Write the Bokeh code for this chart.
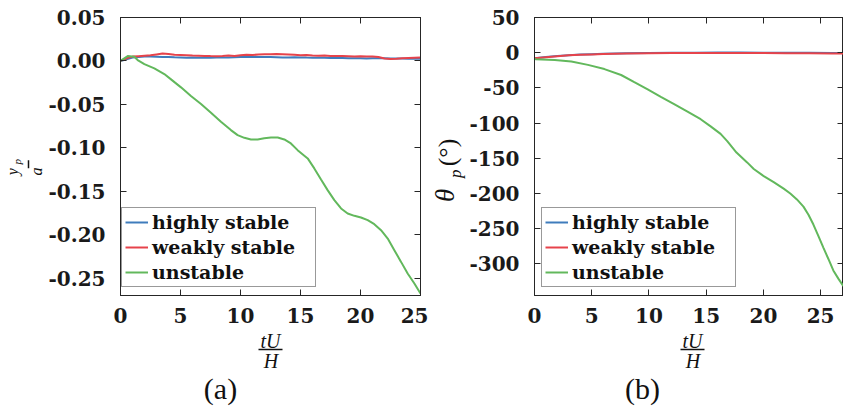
import math
from bokeh.plotting import figure
from bokeh.layouts import row, column
from bokeh.models import (Range1d, LinearAxis, Legend, LegendItem, FixedTicker,
                          PrintfTickFormatter, CustomJSTickFormatter)
from bokeh.core.properties import value
from bokeh.embed import file_html
from bokeh.resources import INLINE

# ---------------- data: panel (a) ----------------
t_stable_a = [0, 0.5, 1, 1.5, 2, 2.5, 3, 3.5, 4, 4.5, 5, 5.5, 6, 6.5, 7, 7.5, 8,
              8.5, 9, 9.5, 10, 10.5, 11, 11.5, 12, 12.5, 13, 13.5, 14, 14.5, 15,
              15.5, 16, 16.5, 17, 17.5, 18, 18.5, 19, 19.5, 20, 20.5, 21, 21.5,
              22, 22.5, 23, 23.5, 24, 24.5, 25]
highly_a = [0.0, 0.002, 0.004, 0.0045, 0.005, 0.005, 0.0048, 0.0046, 0.0045,
            0.0042, 0.004, 0.0038, 0.0039, 0.0037, 0.0036, 0.0038, 0.004, 0.0039,
            0.0041, 0.0043, 0.0044, 0.0045, 0.0044, 0.0046, 0.0045, 0.0044,
            0.0043, 0.0041, 0.004, 0.0042, 0.0041, 0.0039, 0.0038, 0.0036,
            0.0037, 0.0035, 0.0033, 0.0034, 0.0032, 0.003, 0.0031, 0.0029, 0.003,
            0.0031, 0.003, 0.0028, 0.0027, 0.0028, 0.0026, 0.0027, 0.0025]
weakly_a = [0.0, 0.003, 0.005, 0.0055, 0.006, 0.0065, 0.0075, 0.0085, 0.008,
            0.007, 0.0068, 0.0065, 0.0062, 0.006, 0.0058, 0.0056, 0.0055, 0.0058,
            0.0062, 0.0058, 0.0065, 0.0072, 0.0068, 0.0075, 0.0078, 0.0076,
            0.0079, 0.0077, 0.0074, 0.007, 0.0065, 0.0068, 0.0063, 0.006, 0.0062,
            0.0058, 0.0056, 0.0058, 0.0055, 0.0052, 0.0054, 0.005, 0.0052, 0.0045,
            0.0028, 0.0022, 0.0025, 0.003, 0.0035, 0.0038, 0.004]
t_unstable_a = [0, 0.6, 1.15, 1.43, 1.99, 2.82, 3.65, 4.21, 5.04, 5.87, 6.71,
                7.54, 8.37, 9.2, 9.76, 10.32, 10.87, 11.43, 11.98, 12.54, 13.1,
                13.65, 14.2, 14.76, 15.6, 16.15, 16.71, 17.26, 17.82, 18.38,
                18.93, 19.49, 20.04, 20.6, 21.15, 21.71, 22.27, 22.82, 23.38,
                23.93, 24.49, 25.0]
unstable_a = [0.0, 0.0056, 0.0048, 0.001, -0.0036, -0.0085, -0.0151, -0.0212,
              -0.0304, -0.0404, -0.0496, -0.0597, -0.0700, -0.0796, -0.0854,
              -0.0885, -0.0904, -0.0904, -0.0889, -0.0881, -0.0881, -0.0904,
              -0.0950, -0.1027, -0.1122, -0.1237, -0.1364, -0.1487, -0.1602,
              -0.1698, -0.1756, -0.1783, -0.1802, -0.1833, -0.1879, -0.1948,
              -0.2044, -0.2178, -0.2313, -0.2447, -0.2562, -0.2677]
yticks_a = [-0.25, -0.20, -0.15, -0.10, -0.05, 0.0, 0.05]
xticks = [0, 5, 10, 15, 20, 25]

# ---------------- data: panel (b) ----------------
t_stable_b = [0, 1, 2, 3, 4, 5, 6, 7, 8, 10, 12, 14, 16, 18, 20, 22, 24, 26, 27]
weakly_b = [-8, -6.5, -5, -3.8, -3, -2.4, -1.9, -1.5, -1.2, -0.8, -0.5, -0.3,
            -0.3, -0.4, -0.5, -0.7, -0.9, -1.1, -1.2]
highly_b = [-8, -6.2, -4.7, -3.5, -2.7, -2.1, -1.6, -1.2, -0.9, -0.5, -0.2, 0.0,
            0.1, 0.1, 0.0, -0.1, -0.2, -0.3, -0.4]
t_unstable_b = [0, 0.09, 1.77, 3.22, 4.67, 6.11, 7.57, 8.72, 9.89, 11.04, 12.2,
                13.37, 14.52, 15.39, 16.26, 16.84, 17.65, 18.58, 19.16, 20.03,
                20.9, 21.77, 22.35, 22.93, 23.5, 23.94, 24.37, 24.81, 25.24,
                25.68, 26.11, 26.55, 26.93, 27.0]
unstable_b = [-8.5, -9.3, -10.3, -12.6, -17.3, -23.3, -31.7, -41.9, -52.2,
              -62.8, -73.1, -83.7, -94.5, -104.7, -115.4, -125.6, -141.9,
              -155.9, -165.2, -175.4, -183.8, -193.1, -200.1, -208.5, -218.7,
              -230.3, -244.2, -260.5, -276.9, -293.1, -309.4, -321.0, -330.3,
              -331.5]
yticks_b = [-300, -250, -200, -150, -100, -50, 0, 50]

labels = ["highly stable", "weakly stable", "unstable"]
colors = ["#3f7cbc", "#e6434b", "#62b85c"]

INK = "#262626"
TICK_FONT = "DejaVu Serif"
MATH_FONT = "Liberation Serif"
TOP_H = 328
H = 408
W = 843


def style_axis(ax, ticks, fmt, show_labels=True, standoff=12):
    ax.ticker = FixedTicker(ticks=ticks)
    ax.major_tick_in = 6
    ax.major_tick_out = 0
    ax.minor_tick_line_color = None
    ax.axis_line_color = INK
    ax.major_tick_line_color = INK
    ax.axis_line_width = 1
    ax.major_label_text_font = TICK_FONT
    ax.major_label_text_font_style = "bold"
    ax.major_label_text_color = "#1a1a1a"
    if show_labels:
        ax.formatter = PrintfTickFormatter(format=fmt)
        ax.major_label_text_font_size = "20px"
        ax.major_label_standoff = standoff
    else:
        ax.formatter = CustomJSTickFormatter(code="return ''")
        ax.major_label_text_font_size = "8px"
        ax.major_label_standoff = 0


def make_panel(width, xr, yr, yt, yfmt, borders, ystandoff):
    p = figure(width=width, height=TOP_H, x_range=Range1d(*xr),
               y_range=Range1d(*yr), output_backend="svg",
               toolbar_location=None, min_border_left=borders[0],
               min_border_right=borders[1], min_border_top=borders[2],
               min_border_bottom=borders[3])
    p.xgrid.grid_line_color = None
    p.ygrid.grid_line_color = None
    p.outline_line_color = INK
    p.background_fill_color = "white"
    p.border_fill_color = "white"
    style_axis(p.xaxis[0], xticks, "%d")
    style_axis(p.yaxis[0], yt, yfmt, standoff=ystandoff)
    top = LinearAxis()
    style_axis(top, xticks, "%d", show_labels=False)
    p.add_layout(top, "above")
    right = LinearAxis()
    style_axis(right, yt, yfmt, show_labels=False)
    p.add_layout(right, "right")
    return p


def add_legend(p, renderers, loc):
    items = [LegendItem(label=l, renderers=[r]) for l, r in zip(labels, renderers)]
    lg = Legend(items=items, location=loc, label_text_font=TICK_FONT,
                label_text_font_style="bold", label_text_font_size="19px",
                label_text_color="#111111", glyph_width=23, glyph_height=20,
                label_height=20, label_width=160, spacing=3, padding=3,
                margin=0, label_standoff=4, border_line_color="#333333",
                border_line_width=1, background_fill_alpha=1)
    p.add_layout(lg)


def blank(width, height, xr, yr):
    f = figure(width=width, height=height, x_range=Range1d(*xr),
               y_range=Range1d(*yr), output_backend="svg",
               toolbar_location=None, x_axis_type=None, y_axis_type=None,
               min_border=0)
    f.xgrid.grid_line_color = None
    f.ygrid.grid_line_color = None
    f.outline_line_color = None
    return f


def txt(f, x, y, s, size, style="normal", angle=0.0, font=MATH_FONT):
    f.text(x=[x], y=[y], text=[s], text_font=value(font),
           text_font_size=value("%dpx" % size), text_font_style=style,
           text_align="center", text_baseline="middle", angle=angle,
           text_color="#111111")


def rtxt(f, x, y, s, size, style="normal"):
    # rotated text lands about half a line height too high: compensate
    txt(f, x, y + 0.55 * size, s, size, style, angle=math.pi / 2)


# ---------------- panel (a) ----------------
pa = make_panel(384, (0, 25), (-0.27, 0.05), yticks_a, "%.2f",
                (76, 8, 17, TOP_H - 296), 15)
ra = [pa.line(t_stable_a, highly_a, line_color=colors[0], line_width=2),
      pa.line(t_stable_a, weakly_a, line_color=colors[1], line_width=2),
      pa.line(t_unstable_a, unstable_a, line_color=colors[2], line_width=2)]
add_legend(pa, ra, (1, 8))

# ---------------- panel (b) ----------------
pb = make_panel(377, (0, 27), (-345, 50), yticks_b, "%d",
                (67, 0, 12, TOP_H - 295), 15)
rb = [pb.line(t_stable_b, highly_b, line_color=colors[0], line_width=2),
      pb.line(t_stable_b, weakly_b, line_color=colors[1], line_width=2),
      pb.line(t_unstable_b, unstable_b, line_color=colors[2], line_width=2)]
add_legend(pb, rb, (7, 8))

# ---------------- y labels (rotated fractions) ----------------
ya = blank(44, TOP_H, (0, 44), (TOP_H, 0))
rtxt(ya, 12, 173, "y", 16, "italic")
rtxt(ya, 16, 164, "p", 11, "italic")
ya.segment(x0=[28], y0=[168.5], x1=[28], y1=[178], line_color="#111111",
           line_width=1.5)
rtxt(ya, 36, 173, "a", 16, "italic")

yb = blank(38, TOP_H, (428, 466), (TOP_H, 0))
rtxt(yb, 444, 195, "\u03b8", 27, "italic")
rtxt(yb, 455, 175, "p", 17, "italic")
rtxt(yb, 447, 145, "(\u00b0)", 26)

# ---------------- bottom strip: x labels and captions ----------------
strip = blank(W, H - TOP_H, (0, W), (H, TOP_H))
for cx, cap_x, cap in [(270, 220, "(a)"), (692, 642, "(b)")]:
    txt(strip, cx, 340, "tU", 20, "italic")
    strip.segment(x0=[cx - 12], y0=[349], x1=[cx + 12], y1=[349],
                  line_color="#111111", line_width=1.5)
    txt(strip, cx + 0.5, 360, "H", 20, "italic")
    txt(strip, cap_x, 388, cap, 30)

layout = column(row(ya, pa, yb, pb), strip, spacing=0)
open("out.html", "w").write(file_html(layout, INLINE))
